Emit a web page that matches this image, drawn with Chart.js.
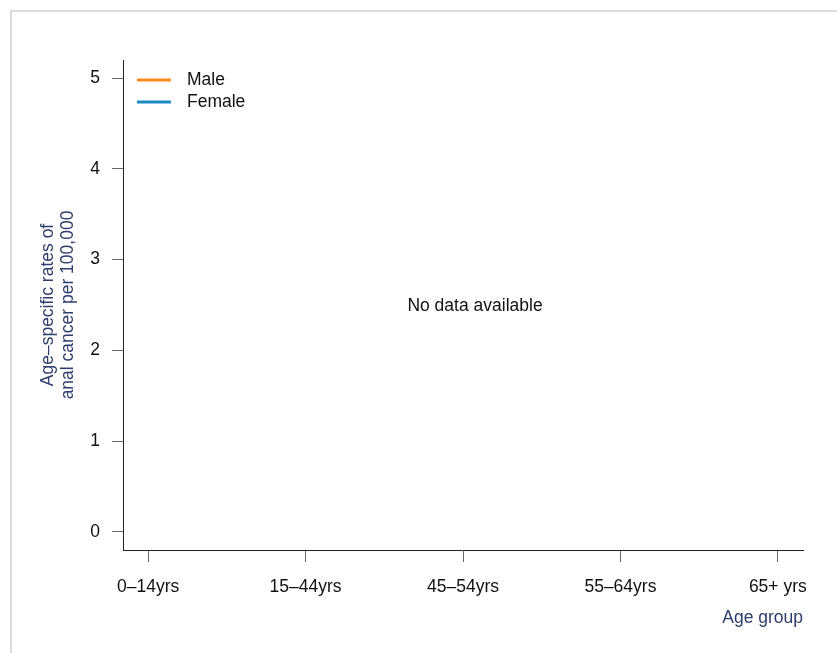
<!DOCTYPE html>
<html>
<head>
<meta charset="utf-8">
<script src="https://cdn.jsdelivr.net/npm/chart.js@4.4.1/dist/chart.umd.min.js"></script>
<style>
  body { margin: 0; background: #fff; }
  #wrap { position: relative; width: 837px; height: 653px; }
</style>
</head>
<body>
<div id="wrap"><canvas id="ageChart" width="837" height="653"></canvas></div>
<script>
// categories and series (no values available for either sex)
const ageGroups = ['0\u201314yrs', '15\u201344yrs', '45\u201354yrs', '55\u201364yrs', '65+ yrs'];
const maleRates = [null, null, null, null, null];
const femaleRates = [null, null, null, null, null];
const yTicks = [0, 1, 2, 3, 4, 5];
const noDataText = 'No data available';

const FONT = "'Liberation Sans', Arial, sans-serif";
const navy = '#2e3d6b';

function toPoints(values) {
    return values.map((v, i) => ({ x: i, y: v }));
}

// frame, legend and the "no data" message
const extras = {
    id: 'extras',
    beforeDraw(chart) {
        const ctx = chart.ctx;
        ctx.save();
        ctx.strokeStyle = '#dcdcdc';
        ctx.lineWidth = 2;
        ctx.beginPath();
        ctx.moveTo(11, 653);
        ctx.lineTo(11, 11);
        ctx.lineTo(837, 11);
        ctx.stroke();
        ctx.restore();
    },
    afterDraw(chart) {
        const ctx = chart.ctx;
        const area = chart.chartArea;
        ctx.save();
        ctx.font = '17.5px ' + FONT;
        ctx.textBaseline = 'middle';

        // legend
        chart.data.datasets.forEach((ds, i) => {
            const y = area.top + 20 + i * 22;
            ctx.strokeStyle = ds.borderColor;
            ctx.lineWidth = 3;
            ctx.beginPath();
            ctx.moveTo(area.left + 14, y);
            ctx.lineTo(area.left + 48, y);
            ctx.stroke();
            ctx.fillStyle = '#111';
            ctx.textAlign = 'left';
            ctx.fillText(ds.label, area.left + 64, y);
        });

        // message in the plot area
        ctx.textAlign = 'center';
        ctx.fillStyle = '#111';
        ctx.fillText(noDataText, (area.left + area.right) / 2 + 12, (area.top + area.bottom) / 2 + 1);
        ctx.restore();
    }
};

new Chart(document.getElementById('ageChart'), {
    type: 'line',
    data: {
        datasets: [
            {
                label: 'Male',
                data: toPoints(maleRates),
                borderColor: '#ff8c1a',
                backgroundColor: '#ff8c1a',
                borderWidth: 3,
                pointRadius: 0
            },
            {
                label: 'Female',
                data: toPoints(femaleRates),
                borderColor: '#1a8cc4',
                backgroundColor: '#1a8cc4',
                borderWidth: 3,
                pointRadius: 0
            }
        ]
    },
    options: {
        responsive: false,
        animation: false,
        layout: { padding: { top: 60, right: 34, left: 0, bottom: 0 } },
        plugins: {
            legend: { display: false },
            tooltip: { enabled: false }
        },
        scales: {
            x: {
                type: 'linear',
                min: -0.16,
                max: 4.16,
                afterFit: (scale) => { scale.height = 103; },
                afterBuildTicks: (scale) => {
                    scale.ticks = ageGroups.map((_, i) => ({ value: i }));
                },
                grid: {
                    drawOnChartArea: false,
                    drawTicks: true,
                    tickLength: 12,
                    color: '#666'
                },
                border: { color: '#222', width: 1 },
                ticks: {
                    padding: 15,
                    color: '#111',
                    font: { family: FONT, size: 17.5 },
                    autoSkip: false,
                    maxRotation: 0,
                    callback: (v) => ageGroups[v]
                },
                title: {
                    display: true,
                    text: 'Age group',
                    align: 'end',
                    color: navy,
                    font: { family: FONT, size: 17.5 },
                    padding: { top: 0, bottom: 24 }
                }
            },
            y: {
                min: -0.2,
                max: 5.2,
                afterFit: (scale) => { scale.width = 123; },
                afterBuildTicks: (scale) => {
                    scale.ticks = yTicks.map(v => ({ value: v }));
                },
                grid: {
                    drawOnChartArea: false,
                    drawTicks: true,
                    tickLength: 11,
                    color: '#666'
                },
                border: { color: '#222', width: 1 },
                ticks: {
                    padding: 12,
                    color: '#111',
                    font: { family: FONT, size: 17.5 }
                },
                title: {
                    display: true,
                    text: ['Age\u2013specific rates of', 'anal cancer per 100,000'],
                    color: navy,
                    font: { family: FONT, size: 17.5, lineHeight: 1.1 },
                    padding: { top: 39, bottom: 0 }
                }
            }
        }
    },
    plugins: [extras]
});
</script>
</body>
</html>
